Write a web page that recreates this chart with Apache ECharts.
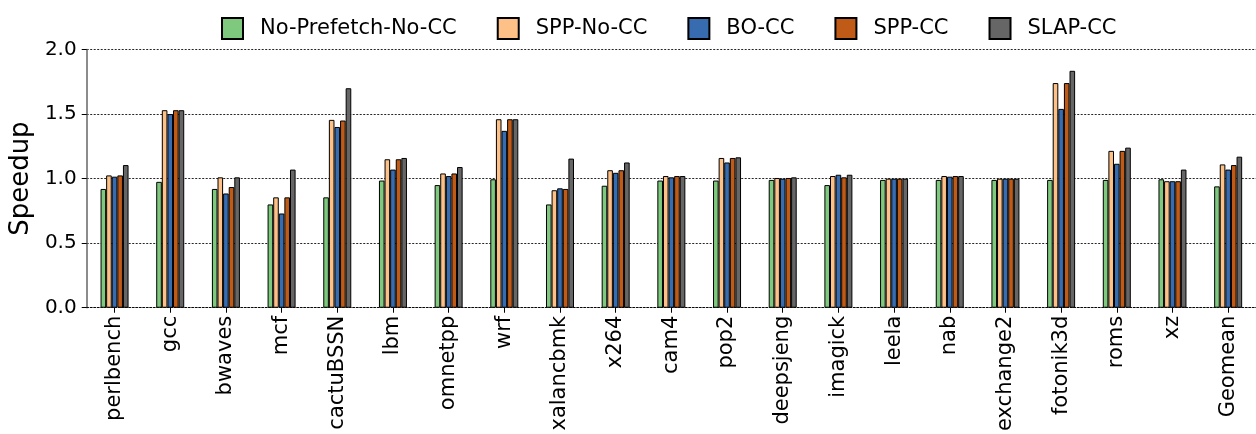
<!DOCTYPE html>
<html>
<head>
<meta charset="utf-8">
<script src="https://cdn.jsdelivr.net/npm/echarts@6/dist/echarts.min.js"></script>
<style>
  html, body { margin: 0; padding: 0; background: #fff; }
  #chart { width: 1256px; height: 434px; }
</style>
</head>
<body>
<div id="chart"></div>
<script>
const categories = ['perlbench', 'gcc', 'bwaves', 'mcf', 'cactuBSSN', 'lbm', 'omnetpp', 'wrf', 'xalancbmk', 'x264', 'cam4',
  'pop2', 'deepsjeng', 'imagick', 'leela', 'nab', 'exchange2', 'fotonik3d', 'roms', 'xz', 'Geomean']

const noPrefetchNoCC = [0.92, 0.975, 0.92, 0.80, 0.855, 0.985, 0.95, 0.995, 0.80, 0.945, 0.985, 0.985, 0.99, 0.95, 0.99, 0.99, 0.99, 0.99, 0.99, 0.995, 0.94]
const sppNoCC = [1.025, 1.53, 1.01, 0.855, 1.455, 1.15, 1.04, 1.46, 0.91, 1.065, 1.02, 1.16, 1.005, 1.02, 1.0, 1.02, 1.0, 1.74, 1.215, 0.98, 1.11]
const boCC = [1.015, 1.50, 0.885, 0.73, 1.40, 1.07, 1.02, 1.37, 0.925, 1.045, 1.01, 1.125, 1.0, 1.03, 1.0, 1.015, 1.0, 1.54, 1.115, 0.98, 1.07]
const sppCC = [1.025, 1.53, 0.935, 0.855, 1.45, 1.15, 1.04, 1.46, 0.92, 1.065, 1.02, 1.16, 1.005, 1.01, 1.0, 1.02, 1.0, 1.74, 1.215, 0.98, 1.105]
const slapCC = [1.105, 1.53, 1.01, 1.07, 1.70, 1.16, 1.09, 1.46, 1.155, 1.125, 1.02, 1.165, 1.01, 1.03, 1.0, 1.02, 1.0, 1.835, 1.24, 1.07, 1.17]

const seriesNames = ['No-Prefetch-No-CC', 'SPP-No-CC', 'BO-CC', 'SPP-CC', 'SLAP-CC']
const seriesValues = [noPrefetchNoCC, sppNoCC, boCC, sppCC, slapCC]
const colors = ['#7fc97f', '#fdc086', '#386cb0', '#bf5b17', '#666666']

const yTicks = [0, 0.5, 1.0, 1.5, 2.0]

const font = 'DejaVu Sans'
const gridLine = { color: 'rgba(0, 0, 0, 0.85)', type: [2, 1.5], width: 1 }

const chart = echarts.init(document.getElementById('chart'), undefined, { renderer: 'canvas' })

chart.setOption({
  animation: false,
  textStyle: { fontFamily: font },
  legend: {
    top: 12,
    left: 216,
    itemWidth: 21,
    itemHeight: 21,
    itemGap: 40,
    icon: 'rect',
    textStyle: { fontFamily: font, fontSize: 21, color: '#000', padding: [0, 0, 0, 12] },
    data: seriesNames,
  },
  grid: { left: 79, right: -3, top: 49.5, bottom: 124.5, containLabel: false },
  xAxis: {
    type: 'category',
    data: categories,
    axisLine: { show: true, lineStyle: gridLine },
    axisTick: { show: true, alignWithLabel: true, length: 5, lineStyle: { color: '#000' } },
    axisLabel: {
      interval: 0,
      rotate: 90,
      margin: 8,
      color: '#000',
      fontSize: 21,
      fontFamily: font,
    },
  },
  yAxis: {
    type: 'value',
    min: 0,
    max: 2,
    interval: 0.5,
    name: 'Speedup',
    nameLocation: 'middle',
    nameGap: 44,
    nameTextStyle: { fontSize: 26, color: '#000', fontFamily: font },
    axisLine: { show: true, lineStyle: { color: '#666', width: 1.5 } },
    axisTick: { show: true, length: 5, lineStyle: { color: '#000' } },
    axisLabel: {
      margin: 10,
      color: '#000',
      fontSize: 20,
      fontFamily: font,
      formatter: (v) => (yTicks.includes(v) ? v.toFixed(1) : ''),
    },
    splitLine: { show: true, lineStyle: gridLine },
  },
  series: seriesNames.map((name, i) => ({
    name,
    type: 'bar',
    data: seriesValues[i],
    barWidth: 5.6,
    barGap: '0%',
    itemStyle: { color: colors[i], borderColor: '#000', borderWidth: 1 },
    emphasis: { disabled: true },
  })),
})
</script>
</body>
</html>
